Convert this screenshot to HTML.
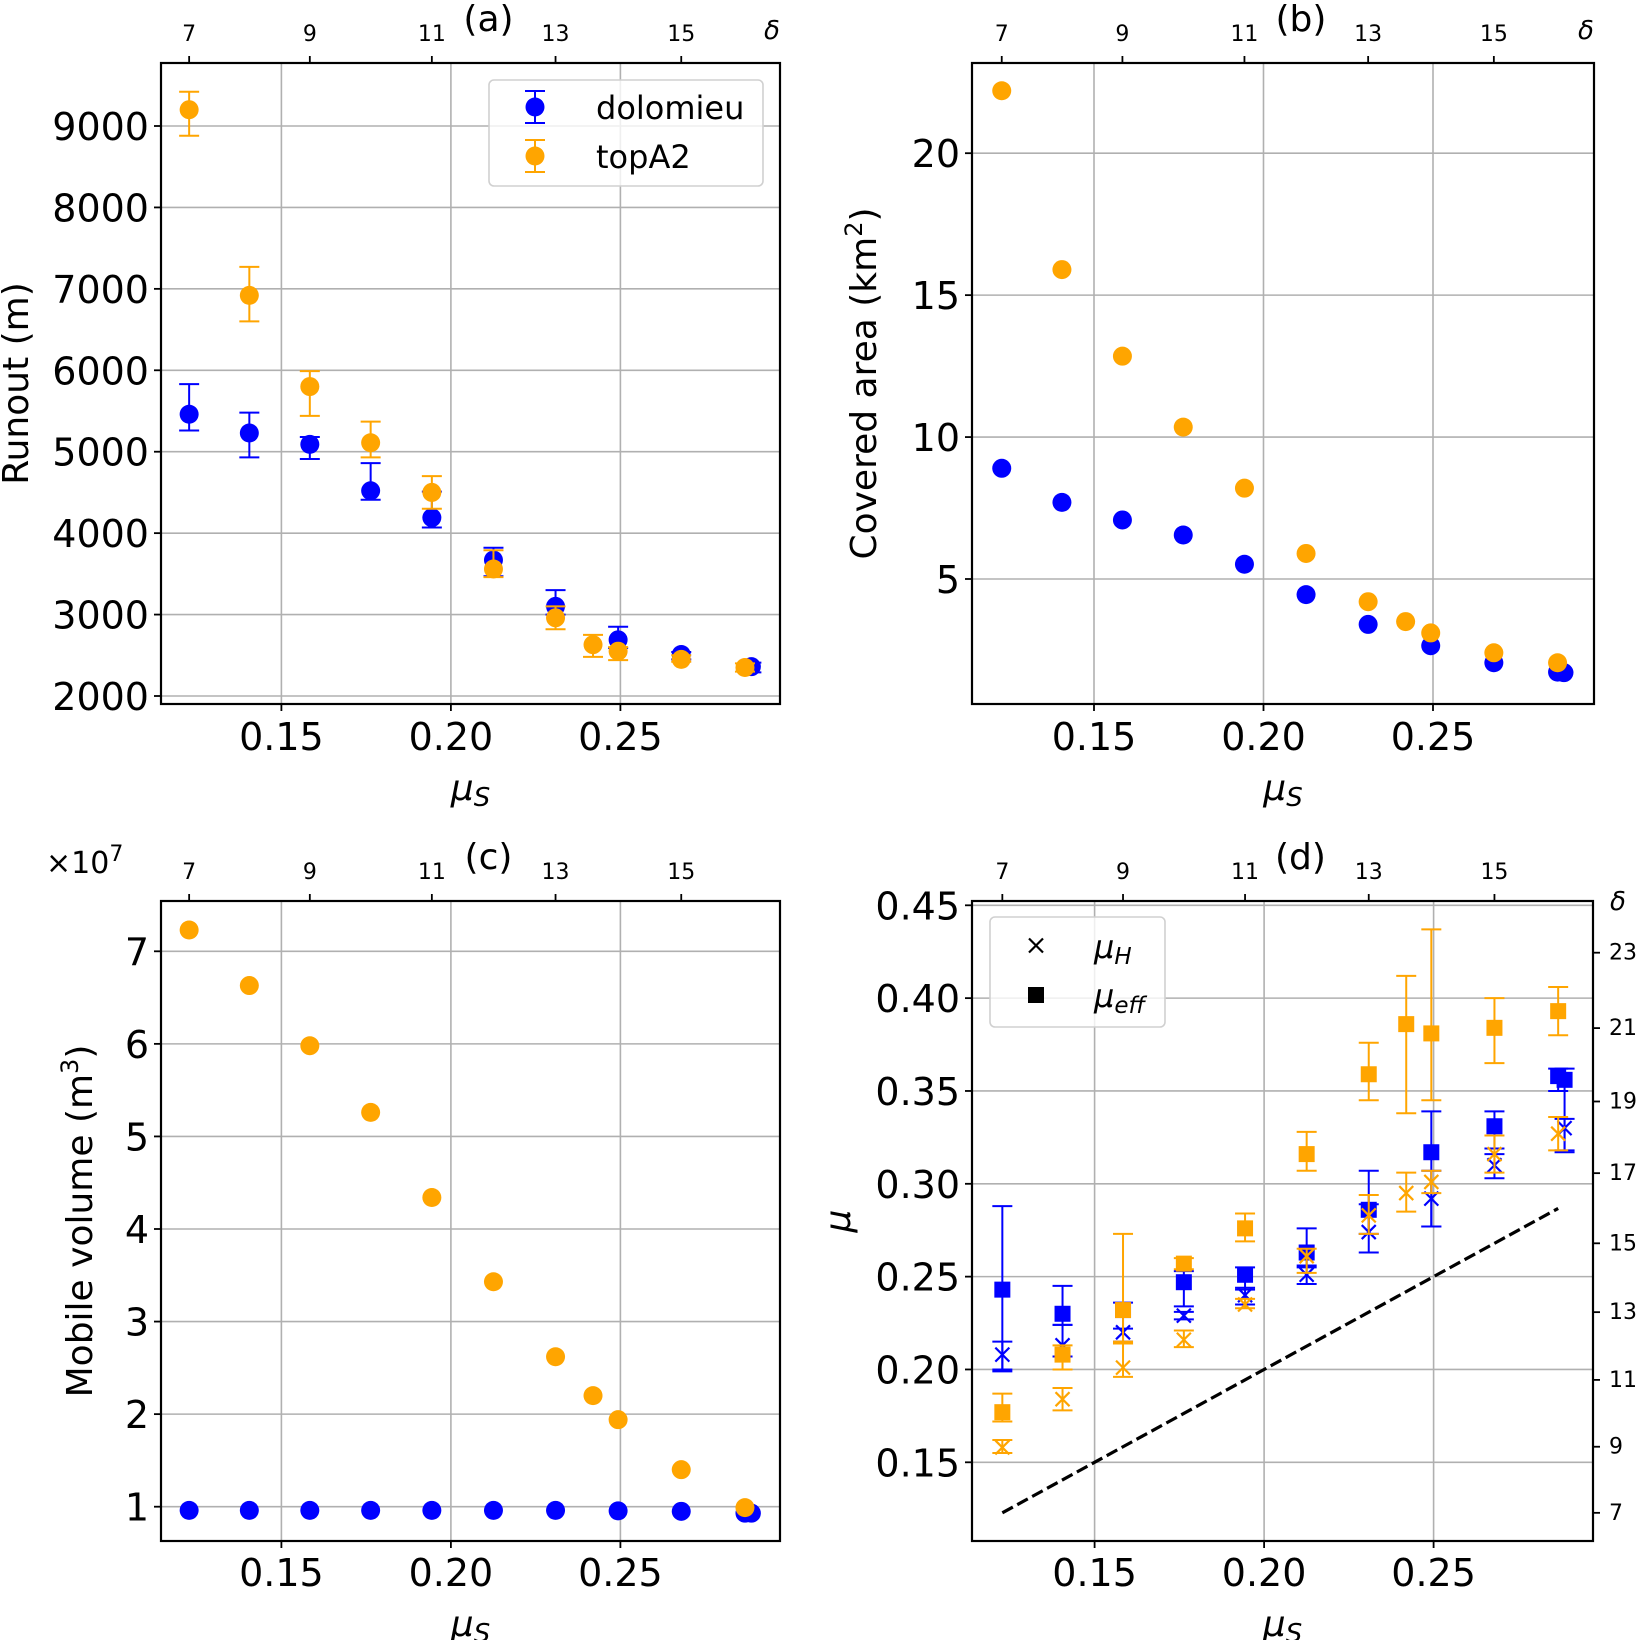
<!DOCTYPE html>
<html><head><meta charset="utf-8">
<style>
html,body{margin:0;padding:0;background:#fff;}
svg{display:block;font-family:"DejaVu Sans","Liberation Sans",sans-serif;}
</style></head>
<body>
<svg id="s" xmlns="http://www.w3.org/2000/svg" width="1638" height="1640" viewBox="0 0 1638 1640"></svg>
<script>
const S=document.getElementById('s');
const NS='http://www.w3.org/2000/svg';
function el(t,a,txt){const e=document.createElementNS(NS,t);for(const k in a)e.setAttribute(k,a[k]);if(txt!==undefined)e.innerHTML=txt;S.appendChild(e);return e;}
const B='#0000ff',O='#ffa500';
const rad=d=>Math.tan(d*Math.PI/180);

function panel(p){
  const X=m=>p.x0+(m-0.15)*3390;
  const Y=v=>p.yA+(v-p.vA)*(p.yB-p.yA)/(p.vB-p.vA);
  const L=p.L,R=p.R,T=p.T,Bt=p.Bt;
  [0.15,0.20,0.25].forEach(m=>el('line',{x1:X(m),x2:X(m),y1:T,y2:Bt,stroke:'#b0b0b0','stroke-width':1.6}));
  p.yt.forEach(v=>el('line',{x1:L,x2:R,y1:Y(v),y2:Y(v),stroke:'#b0b0b0','stroke-width':1.6}));
  p.draw(X,Y);
  el('rect',{x:L,y:T,width:R-L,height:Bt-T,fill:'none',stroke:'#000','stroke-width':2.2});
  [0.15,0.20,0.25].forEach(m=>{el('line',{x1:X(m),x2:X(m),y1:Bt,y2:Bt+7,stroke:'#000','stroke-width':1.8});
    el('text',{x:X(m),y:p.xlb,'font-size':38,'text-anchor':'middle'},m.toFixed(2));});
  el('text',{x:(L+R)/2,y:p.xlb+50,'font-size':36,'text-anchor':'middle','font-style':'italic'},'μ<tspan font-size="26" dy="6">S</tspan>');
  p.yt.forEach((v,i)=>{el('line',{x1:L-7,x2:L,y1:Y(v),y2:Y(v),stroke:'#000','stroke-width':1.8});
    el('text',{x:L-12,y:Y(v)+14,'font-size':38,'text-anchor':'end'},p.ytl[i]);});
  [7,9,11,13,15].forEach(d=>{const x=X(rad(d));el('line',{x1:x,x2:x,y1:T-7,y2:T,stroke:'#000','stroke-width':1.8});
    el('text',{x:x,y:T-22,'font-size':22,'text-anchor':'middle'},d);});
  el('text',{x:(L+R)/2+18,y:T-32,'font-size':36,'text-anchor':'middle'},p.title);
  if(p.delta) el('text',{x:R-8,y:T-24,'font-size':26,'text-anchor':'middle','font-style':'italic'},'δ');
  el('text',{x:0,y:0,'font-size':36,'text-anchor':'middle',transform:`translate(${p.ylx},${(T+Bt)/2}) rotate(-90)`},p.ylab);
  return {X,Y};
}
function dot(x,y,c,r){el('circle',{cx:x,cy:y,r:r||9.5,fill:c});}
function eb(x,y1,y2,c){el('line',{x1:x,x2:x,y1:y1,y2:y2,stroke:c,'stroke-width':2});
  el('line',{x1:x-10,x2:x+10,y1:y1,y2:y1,stroke:c,'stroke-width':2});
  el('line',{x1:x-10,x2:x+10,y1:y2,y2:y2,stroke:c,'stroke-width':2});}
function sq(x,y,c){el('rect',{x:x-8,y:y-8,width:16,height:16,fill:c});}
function cross(x,y,c){el('path',{d:`M${x-7} ${y-7}L${x+7} ${y+7}M${x-7} ${y+7}L${x+7} ${y-7}`,stroke:c,'stroke-width':2.2});}

panel({x0:281.4,L:161,R:780,T:63,Bt:704,yA:126,vA:9000,yB:696,vB:2000,
 yt:[2000,3000,4000,5000,6000,7000,8000,9000],ytl:['2000','3000','4000','5000','6000','7000','8000','9000'],
 xlb:750,title:'(a)',delta:true,ylx:28,ylab:'Runout (m)',
 draw:(X,Y)=>{
  const b=[[7,5460,5260,5830],[8,5230,4930,5480],[9,5090,4910,5180],[10,4520,4410,4860],[11,4190,4070,4510],[12,3670,3470,3820],[13,3100,3000,3300],[14,2690,2590,2850],[15,2510,2450,2540],[16.1,2360,2290,2410]];
  const o=[[7,9200,8880,9420],[8,6920,6600,7270],[9,5800,5440,5990],[10,5110,4930,5370],[11,4500,4300,4700],[12,3560,3460,3790],[13,2960,2820,3100],[13.6,2630,2480,2750],[14,2550,2440,2600],[15,2450,2420,2500],[16,2350,2300,2400]];
  b.forEach(d=>{const x=X(rad(d[0]));eb(x,Y(d[2]),Y(d[3]),B);dot(x,Y(d[1]),B);});
  o.forEach(d=>{const x=X(rad(d[0]));eb(x,Y(d[2]),Y(d[3]),O);dot(x,Y(d[1]),O);});
  el('rect',{x:489,y:80,width:274,height:106,rx:5,fill:'#fff','fill-opacity':0.8,stroke:'#d0d0d0','stroke-width':1.6});
  eb(535,91,123,B);dot(535,107,B);eb(535,140,172,O);dot(535,156,O);
  el('text',{x:596,y:119,'font-size':32},'dolomieu');el('text',{x:596,y:168,'font-size':32},'topA2');
 }});
panel({x0:1094,L:972,R:1594,T:63,Bt:704,yA:153.2,vA:20,yB:579,vB:5,
 yt:[5,10,15,20],ytl:['5','10','15','20'],xlb:750,title:'(b)',delta:true,ylx:876,ylab:'Covered area (km<tspan font-size="24" dy="-14">2</tspan><tspan dy="14">)</tspan>',
 draw:(X,Y)=>{
  const o=[[7,22.2],[8,15.9],[9,12.85],[10,10.35],[11,8.2],[12,5.9],[13,4.2],[13.6,3.5],[14,3.1],[15,2.4],[16,2.05]];
  const b=[[7,8.9],[8,7.7],[9,7.08],[10,6.55],[11,5.52],[12,4.45],[13,3.4],[14,2.65],[15,2.05],[16,1.72],[16.1,1.7]];
  b.forEach(d=>dot(X(rad(d[0])),Y(d[1]),B));o.forEach(d=>dot(X(rad(d[0])),Y(d[1]),O));
 }});
panel({x0:281.4,L:161,R:780,T:901,Bt:1541,yA:951.3,vA:7,yB:1506.7,vB:1,
 yt:[1,2,3,4,5,6,7],ytl:['1','2','3','4','5','6','7'],xlb:1586,title:'(c)',delta:false,ylx:92,ylab:'Mobile volume (m<tspan font-size="24" dy="-14">3</tspan><tspan dy="14">)</tspan>',
 draw:(X,Y)=>{
  const o=[[7,7.23],[8,6.63],[9,5.98],[10,5.26],[11,4.34],[12,3.43],[13,2.62],[13.6,2.2],[14,1.94],[15,1.40],[16,0.99]];
  const b=[[7,0.96],[8,0.96],[9,0.96],[10,0.96],[11,0.96],[12,0.96],[13,0.96],[14,0.955],[15,0.95],[16,0.93],[16.1,0.93]];
  b.forEach(d=>dot(X(rad(d[0])),Y(d[1]),B));o.forEach(d=>dot(X(rad(d[0])),Y(d[1]),O));
 }});
el('text',{x:46,y:873,'font-size':30},'×10<tspan font-size="22" dy="-12">7</tspan>');
const pd=panel({x0:1094.6,L:972,R:1593,T:901,Bt:1541,yA:905.3,vA:0.45,yB:1462.3,vB:0.15,
 yt:[0.15,0.20,0.25,0.30,0.35,0.40,0.45],ytl:['0.15','0.20','0.25','0.30','0.35','0.40','0.45'],xlb:1586,title:'(d)',delta:false,ylx:850,ylab:'<tspan font-style="italic">μ</tspan>',
 draw:(X,Y)=>{
  el('line',{x1:X(rad(7)),y1:Y(rad(7)),x2:X(rad(16)),y2:Y(rad(16)),stroke:'#000','stroke-width':3.2,'stroke-dasharray':'12,5'});
  const bs=[[7,0.243,0.2,0.288],[8,0.23,0.224,0.245],[9,0.232,0.214,0.236],[10,0.247,0.234,0.253],[11,0.251,0.243,0.255],[12,0.263,0.255,0.276],[13,0.286,0.273,0.307],[14,0.317,0.277,0.339],[15,0.331,0.319,0.339],[16,0.358,0.35,0.362],[16.1,0.356,0.318,0.362]];
  const bx=[[7,0.208,0.199,0.215],[8,0.213,0.207,0.224],[9,0.22,0.215,0.222],[10,0.229,0.227,0.231],[11,0.24,0.235,0.244],[12,0.251,0.246,0.256],[13,0.274,0.263,0.289],[14,0.292,0.277,0.307],[15,0.31,0.303,0.316],[16.1,0.33,0.317,0.335]];
  const os=[[7,0.177,0.172,0.187],[8,0.208,0.2,0.213],[9,0.232,0.214,0.273],[10,0.257,0.254,0.26],[11,0.276,0.269,0.284],[12,0.316,0.307,0.328],[13,0.359,0.345,0.376],[13.6,0.386,0.338,0.412],[14,0.381,0.345,0.437],[15,0.384,0.365,0.4],[16,0.393,0.38,0.406]];
  const ox=[[7,0.158,0.155,0.162],[8,0.184,0.178,0.19],[9,0.201,0.196,0.215],[10,0.216,0.212,0.221],[11,0.235,0.233,0.238],[12,0.261,0.252,0.265],[13,0.283,0.273,0.294],[13.6,0.295,0.285,0.306],[14,0.301,0.295,0.307],[15,0.316,0.306,0.326],[16,0.327,0.318,0.336]];
  bs.forEach(d=>{const x=X(rad(d[0]));eb(x,Y(d[2]),Y(d[3]),B);sq(x,Y(d[1]),B);});
  bx.forEach(d=>{const x=X(rad(d[0]));eb(x,Y(d[2]),Y(d[3]),B);cross(x,Y(d[1]),B);});
  os.forEach(d=>{const x=X(rad(d[0]));eb(x,Y(d[2]),Y(d[3]),O);sq(x,Y(d[1]),O);});
  ox.forEach(d=>{const x=X(rad(d[0]));eb(x,Y(d[2]),Y(d[3]),O);cross(x,Y(d[1]),O);});
  el('rect',{x:990,y:917,width:175,height:110,rx:5,fill:'#fff','fill-opacity':0.8,stroke:'#d0d0d0','stroke-width':1.6});
  cross(1036,945.5,'#000');sq(1036,995,'#000');
  el('text',{x:1094,y:958,'font-size':32,'font-style':'italic'},'μ<tspan font-size="23" dy="6">H</tspan>');
  el('text',{x:1094,y:1007,'font-size':32,'font-style':'italic'},'μ<tspan font-size="23" dy="6">eff</tspan>');
 }});
[7,9,11,13,15,17,19,21,23].forEach(d=>{const y=pd.Y(rad(d));
  el('line',{x1:1593,x2:1600,y1:y,y2:y,stroke:'#000','stroke-width':1.8});
  el('text',{x:1609,y:y+7,'font-size':22},d);});
el('text',{x:1618,y:910,'font-size':26,'font-style':'italic','text-anchor':'middle'},'δ');
</script>
</body></html>
